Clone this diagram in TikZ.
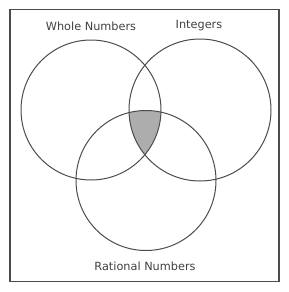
\documentclass[tikz,border=0pt]{standalone}
\usepackage{fontspec}
\setmainfont{DejaVu Sans}
\begin{document}
\begin{tikzpicture}[x=1pt,y=-1pt,
  frame/.style={draw=black!70, line width=1.5pt},
  setcircle/.style={draw=black!70, line width=1pt},
  lbl/.style={font=\fontsize{11.3}{13}\selectfont, text=black!75, inner sep=0pt}]
\useasboundingbox (0,0) rectangle (289,292);
\coordinate (cw) at (91,110);
\coordinate (ci) at (200,110);
\coordinate (cr) at (146,180.5);
\begin{scope}
  \clip (cw) circle (70);
  \clip (ci) circle (71);
  \fill[black!32] (cr) circle (70);
\end{scope}
\node[frame, minimum width=269, minimum height=272, inner sep=0pt] (box) at (144.5,145.5) {};
\node[setcircle, circle, minimum size=140, inner sep=0pt] (w) at (cw) {};
\node[setcircle, circle, minimum size=142, inner sep=0pt] (i) at (ci) {};
\node[setcircle, circle, minimum size=140, inner sep=0pt] (r) at (cr) {};
\node[lbl] (lw) at (91,26) {Whole Numbers};
\node[lbl] (li) at (199,26) {Integers};
\node[lbl] (lr) at (145,266) {Rational Numbers};
\end{tikzpicture}
\end{document}
